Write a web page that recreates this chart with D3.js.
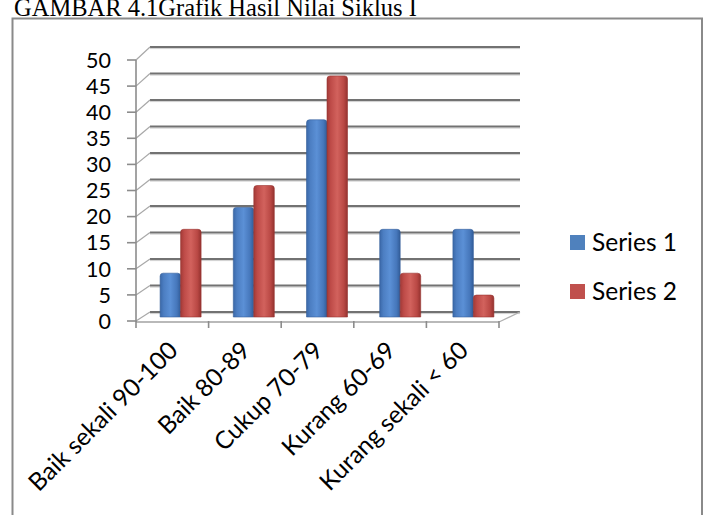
<!DOCTYPE html>
<html>
<head>
<meta charset="utf-8">
<script src="https://cdn.jsdelivr.net/npm/d3@7"></script>
<style>
  html, body { margin: 0; padding: 0; background: #fff; }
  svg { display: block; }
</style>
</head>
<body>
<script>
const categories = ["Baik sekali 90-100", "Baik 80-89", "Cukup 70-79", "Kurang 60-69", "Kurang sekali < 60"];
const series1 = [8.33, 20.83, 37.5, 16.67, 16.67];
const series2 = [16.67, 25, 45.83, 8.33, 4.17];
const seriesNames = ["Series 1", "Series 2"];
const yTicks = [0, 5, 10, 15, 20, 25, 30, 35, 40, 45, 50];
const titleText = "GAMBAR 4.1Grafik Hasil Nilai Siklus I";

const W = 708, H = 515;
const svg = d3.select("body").append("svg").attr("width", W).attr("height", H);
const font = "Lato, 'Open Sans', sans-serif";

// gradients
const defs = svg.append("defs");
function grad(id, stops) {
  const g = defs.append("linearGradient").attr("id", id).attr("x1", "0").attr("x2", "1").attr("y1", "0").attr("y2", "0");
  stops.forEach(([o, c]) => g.append("stop").attr("offset", o).attr("stop-color", c));
}
grad("gBlue", [[0, "#3a68a8"], [0.18, "#4c7ec2"], [0.5, "#5b90d6"], [0.82, "#4677bb"], [1, "#315c98"]]);
grad("gRed", [[0, "#a23a37"], [0.18, "#be4b48"], [0.5, "#d2625d"], [0.82, "#b94844"], [1, "#94322f"]]);
const fills = ["url(#gBlue)", "url(#gRed)"];
const legendColors = ["#4f81bd", "#c0504d"];

// title (cut off at top, as in the source)
svg.append("text").attr("x", 14).attr("y", 15.5).attr("font-family", "'Liberation Serif', 'Times New Roman', serif")
  .attr("font-size", 24.5).attr("fill", "#000").text(titleText);

// frame
svg.append("rect").attr("x", 12.5).attr("y", 18.5).attr("width", 689.5).attr("height", 520)
  .attr("fill", "none").attr("stroke", "#8a8a8a").attr("stroke-width", 2);

// scales
const yFront = d3.scaleLinear().domain([0, 50]).range([321, 60]);
const yBack = d3.scaleLinear().domain([0, 50]).range([312, 47]);
const yMid = d3.scaleLinear().domain([0, 50]).range([317, 54]);
const xFront = d3.scaleBand().domain(categories).range([136, 499]).paddingInner(0).paddingOuter(0);
const xMid = d3.scaleBand().domain(categories).range([144, 510]).paddingInner(0).paddingOuter(0);
const backX0 = 150, backX1 = 520;

// gridlines on back wall + connectors
const grid = svg.append("g");
yTicks.forEach(v => {
  grid.append("line").attr("x1", backX0).attr("x2", backX1).attr("y1", yBack(v) + 1.6).attr("y2", yBack(v) + 1.6)
    .attr("stroke", "#cfcfcf").attr("stroke-width", 1);
  grid.append("line").attr("x1", backX0).attr("x2", backX1).attr("y1", yBack(v)).attr("y2", yBack(v))
    .attr("stroke", "#727272").attr("stroke-width", 1.8);
  grid.append("line").attr("x1", 136).attr("y1", yFront(v)).attr("x2", backX0).attr("y2", yBack(v))
    .attr("stroke", "#a8a8a8").attr("stroke-width", 1.2);
});

// floor front edge and right diagonal
svg.append("line").attr("x1", 136).attr("x2", 499).attr("y1", 322).attr("y2", 322)
  .attr("stroke", "#b9b9b9").attr("stroke-width", 2);
svg.append("line").attr("x1", 499).attr("y1", 322).attr("x2", backX1).attr("y2", yBack(0))
  .attr("stroke", "#b0b0b0").attr("stroke-width", 1.2);

// bars
const barW = 20.5;
const bars = svg.append("g");
[series1, series2].forEach((vals, si) => {
  vals.forEach((v, i) => {
    const c = xMid(categories[i]) + xMid.bandwidth() / 2;
    const x0 = si === 0 ? c - barW : c;
    const y0 = yMid(v), yb = yMid(0);
    const r = 3;
    const p = d3.path();
    p.moveTo(x0, yb);
    p.lineTo(x0, y0 + r);
    p.quadraticCurveTo(x0, y0, x0 + r, y0);
    p.lineTo(x0 + barW - r, y0);
    p.quadraticCurveTo(x0 + barW, y0, x0 + barW, y0 + r);
    p.lineTo(x0 + barW, yb);
    p.closePath();
    bars.append("path").attr("d", p.toString()).attr("fill", fills[si])
      .attr("stroke", si === 0 ? "#35609a" : "#983431").attr("stroke-width", 0.6);
  });
});

// y axis
svg.append("line").attr("x1", 136).attr("x2", 136).attr("y1", yFront(50)).attr("y2", 322)
  .attr("stroke", "#8c8c8c").attr("stroke-width", 1.6);
const yAxis = svg.append("g");
yTicks.forEach(v => {
  yAxis.append("line").attr("x1", 127).attr("x2", 136).attr("y1", yFront(v)).attr("y2", yFront(v))
    .attr("stroke", "#8c8c8c").attr("stroke-width", 1.6);
  yAxis.append("text").attr("x", 111).attr("y", yFront(v)).attr("dy", "0.36em")
    .attr("text-anchor", "end").attr("font-family", font).attr("font-size", 21.5).attr("fill", "#000").text(v);
});

// x ticks
const xb = categories.map(c => xFront(c)).concat([xFront.range()[1]]);
xb.forEach(x => {
  svg.append("line").attr("x1", x).attr("x2", x).attr("y1", 321).attr("y2", 328)
    .attr("stroke", "#8c8c8c").attr("stroke-width", 1.6);
});

// x labels
categories.forEach(cat => {
  const cx = xFront(cat) + xFront.bandwidth() / 2 + 7;
  const cy = 352;
  svg.append("text").attr("transform", `translate(${cx},${cy}) rotate(-45)`)
    .attr("text-anchor", "end").attr("font-family", font).attr("font-size", 24.5).attr("fill", "#000").text(cat);
});

// legend
seriesNames.forEach((n, i) => {
  const y = 235 + i * 49;
  svg.append("rect").attr("x", 570).attr("y", y).attr("width", 15).attr("height", 15).attr("fill", legendColors[i]);
  svg.append("text").attr("x", 592).attr("y", y + 16).attr("font-family", font).attr("font-size", 24.5)
    .attr("fill", "#000").text(n);
});
</script>
</body>
</html>
